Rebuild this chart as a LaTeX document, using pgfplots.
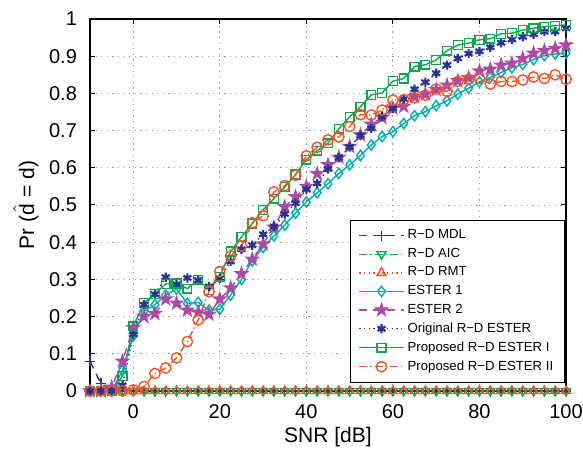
\documentclass[border=0pt]{standalone}
\usepackage{fontspec}
\setmainfont{Liberation Sans}
\usepackage{amsmath}
\usepackage{pgfplots}
\usepackage{pgfplotstable}
\pgfplotsset{compat=1.18}
\definecolor{cblue}{rgb}{0.16,0.2,0.57}
\definecolor{cgreen}{rgb}{0.05,0.65,0.3}
\definecolor{corange}{rgb}{0.96,0.33,0.14}
\definecolor{ccyan}{rgb}{0.0,0.68,0.68}
\definecolor{cpink}{rgb}{0.68,0.29,0.65}
\pgfdeclareplotmark{pentagram}{%
 \pgfpathmoveto{\pgfpointpolar{90}{\pgfplotmarksize}}%
 \pgfpathlineto{\pgfpointpolar{126}{0.382\pgfplotmarksize}}%
 \pgfpathlineto{\pgfpointpolar{162}{\pgfplotmarksize}}%
 \pgfpathlineto{\pgfpointpolar{198}{0.382\pgfplotmarksize}}%
 \pgfpathlineto{\pgfpointpolar{234}{\pgfplotmarksize}}%
 \pgfpathlineto{\pgfpointpolar{270}{0.382\pgfplotmarksize}}%
 \pgfpathlineto{\pgfpointpolar{306}{\pgfplotmarksize}}%
 \pgfpathlineto{\pgfpointpolar{342}{0.382\pgfplotmarksize}}%
 \pgfpathlineto{\pgfpointpolar{18}{\pgfplotmarksize}}%
 \pgfpathlineto{\pgfpointpolar{54}{0.382\pgfplotmarksize}}%
 \pgfpathclose
 \pgfusepathqfillstroke}
\pgfplotstableread{
x     mdl   aic rmt e1    e2    orig  p1    p2
-10   0.08  0 0 0     0     0     0     0
-7.5  0.02  0 0 0     0     0     0     0
-5    0     0 0 0     0.01  0     0     0
-2.5  0     0 0 0.055 0.08  0.015 0.04  0
0     0     0 0 0.148 0.17  0.152 0.174 0.003
2.5   0     0 0 0.215 0.2   0.232 0.237 0.012
5     0     0 0 0.232 0.208 0.26  0.261 0.047
7.5   0     0 0 0.258 0.247 0.306 0.288 0.062
10    0     0 0 0.274 0.236 0.287 0.289 0.089
12.5  0     0 0 0.235 0.217 0.304 0.275 0.133
15    0     0 0 0.238 0.212 0.298 0.299 0.191
17.5  0     0 0 0.217 0.206 0.281 0.272 0.267
20    0     0 0 0.22  0.247 0.303 0.307 0.321
22.5  0     0 0 0.258 0.277 0.348 0.375 0.363
25    0     0 0 0.30  0.315 0.381 0.414 0.39
27.5  0     0 0 0.35  0.354 0.392 0.45  0.452
30    0     0 0 0.386 0.395 0.421 0.487 0.471
32.5  0     0 0 0.417 0.44  0.442 0.517 0.535
35    0     0 0 0.446 0.495 0.476 0.548 0.552
37.5  0     0 0 0.478 0.522 0.505 0.582 0.58
40    0     0 0 0.508 0.55  0.542 0.622 0.632
42.5  0     0 0 0.533 0.584 0.558 0.646 0.655
45    0     0 0 0.557 0.608 0.597 0.666 0.675
47.5  0     0 0 0.585 0.628 0.627 0.705 0.683
50    0     0 0 0.608 0.657 0.656 0.737 0.711
52.5  0     0 0 0.633 0.688 0.687 0.764 0.743
55    0     0 0 0.661 0.717 0.706 0.796 0.742
57.5  0     0 0 0.684 0.735 0.737 0.801 0.755
60    0     0 0 0.697 0.76  0.76  0.833 0.782
62.5  0     0 0 0.719 0.765 0.785 0.84  0.783
65    0     0 0 0.74  0.791 0.811 0.872 0.788
67.5  0     0 0 0.751 0.798 0.83  0.877 0.795
70    0     0 0 0.767 0.81  0.854 0.89  0.812
72.5  0     0 0 0.78  0.822 0.876 0.915 0.805
75    0     0 0 0.798 0.834 0.894 0.93  0.832
77.5  0     0 0 0.814 0.842 0.907 0.935 0.838
80    0     0 0 0.831 0.86  0.913 0.944 0.841
82.5  0     0 0 0.843 0.865 0.924 0.947 0.825
85    0     0 0 0.856 0.876 0.936 0.96  0.832
87.5  0     0 0 0.869 0.881 0.945 0.962 0.832
90    0     0 0 0.878 0.894 0.952 0.97  0.836
92.5  0     0 0 0.891 0.908 0.959 0.975 0.844
95    0     0 0 0.902 0.915 0.966 0.979 0.84
97.5  0     0 0 0.906 0.921 0.966 0.982 0.85
100   0     0 0 0.908 0.93  0.975 0.984 0.838
}\datatable
\begin{document}
\begin{tikzpicture}
\useasboundingbox (-45pt,-33.5pt) rectangle (246.5pt,195.5pt);
\begin{axis}[
  scale only axis,
  width=238pt, height=186pt,
  xmin=-10, xmax=100, ymin=0, ymax=1,
  xtick={0,20,40,60,80,100},
  ytick={0,0.1,0.2,0.3,0.4,0.5,0.6,0.7,0.8,0.9,1},
  yticklabels={0,0.1,0.2,0.3,0.4,0.5,0.6,0.7,0.8,0.9,1},
  /pgf/number format/assume math mode=true,
  tick align=inside,
  major tick length=2.5pt,
  tick style={black, line width=0.5pt},
  axis line style={black, line width=0.8pt},
  grid=major,
  major grid style={gray!80, line width=0.45pt, dash pattern=on 0.6pt off 2.2pt},
  ticklabel style={font=\fontsize{10}{12}\selectfont},
  yticklabel style={xshift=-3pt},
  xticklabel style={yshift=-3pt},
  xlabel={SNR [dB]},
  ylabel={Pr ($\hat{\text{d}}$ = d)},
  label style={font=\fontsize{10.5}{12}\selectfont},
  xlabel style={at={(axis description cs:0.5,-0.124)}, anchor=center},
  ylabel style={at={(axis description cs:-0.135,0.5)}, anchor=center},
  legend cell align=left,
  legend image code/.code={\draw[mark repeat=2,mark phase=2,#1] plot coordinates {(0cm,0cm) (0.39cm,0cm) (0.78cm,0cm)};},
  legend style={at={(axis description cs:0.998,0.022)}, anchor=south east,
    draw=black, line width=0.6pt, fill=white,
    font=\fontsize{6.6}{7.5}\selectfont, row sep=0pt,
    inner xsep=4pt, inner ysep=3pt,
    nodes={inner sep=1.6pt}},
  every axis plot/.append style={line width=0.7pt},
]
\addplot[cblue, dash pattern=on 4pt off 3pt, mark=+, mark size=2.6pt, mark options={solid}] table[x=x,y=mdl] {\datatable};
\addlegendentry{R−D MDL}
\addplot[cgreen, dash pattern=on 4pt off 1.5pt on 0.6pt off 1.5pt, mark=triangle, mark size=2.5pt, mark options={solid, rotate=180}] table[x=x,y=aic] {\datatable};
\addlegendentry{R−D AIC}
\addplot[corange, dash pattern=on 0.7pt off 1.6pt, mark=triangle, mark size=2.5pt, mark options={solid}] table[x=x,y=rmt] {\datatable};
\addlegendentry{R−D RMT}
\addplot[ccyan, solid, mark=diamond, mark size=2.6pt, mark options={solid}] table[x=x,y=e1] {\datatable};
\addlegendentry{ESTER 1}
\addplot[cpink, dash pattern=on 4pt off 3pt, mark=pentagram, mark size=3.1pt, mark options={solid, fill=cpink}] table[x=x,y=e2] {\datatable};
\addlegendentry{ESTER 2}
\addplot[cblue, dash pattern=on 0.7pt off 1.6pt, mark=asterisk, mark size=2.3pt, mark options={solid, line width=1.1pt}] table[x=x,y=orig] {\datatable};
\addlegendentry{Original R−D ESTER}
\addplot[cgreen, solid, mark=square, mark size=2.2pt, mark options={solid}] table[x=x,y=p1] {\datatable};
\addlegendentry{Proposed R−D ESTER I}
\addplot[corange, dash pattern=on 4pt off 1.5pt on 0.6pt off 1.5pt, mark=o, mark size=2.6pt, mark options={solid}] table[x=x,y=p2] {\datatable};
\addlegendentry{Proposed R−D ESTER II}
\end{axis}
\end{tikzpicture}
\end{document}
